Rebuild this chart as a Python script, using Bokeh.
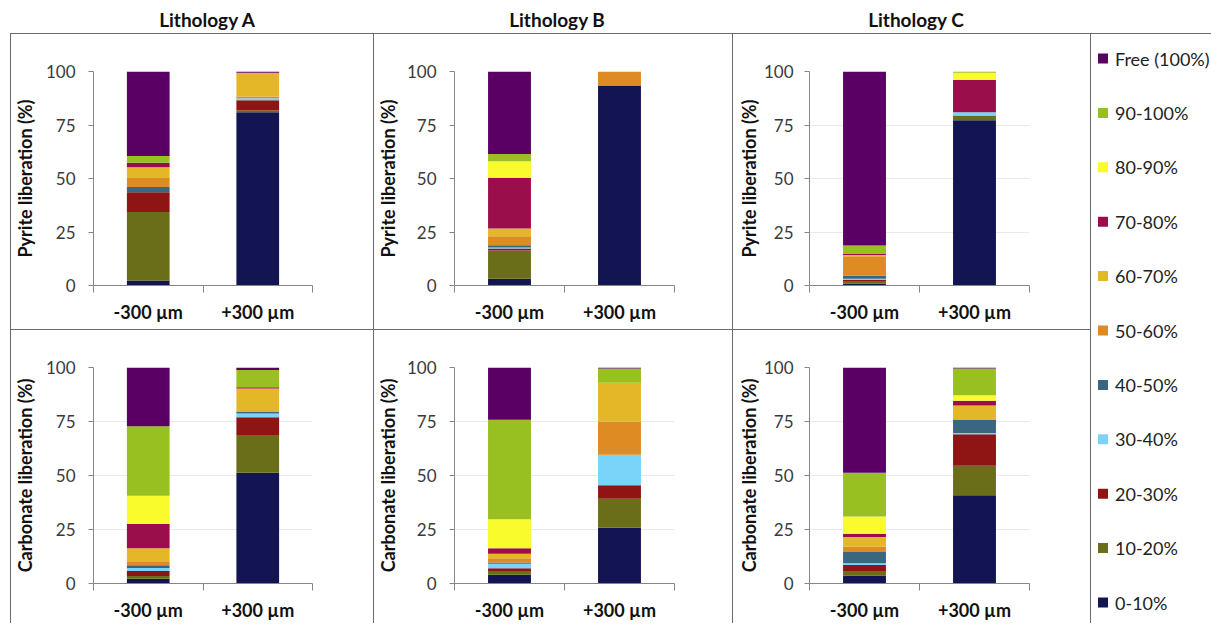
from bokeh.plotting import figure
from bokeh.models import Range1d, FixedTicker, Div, ColumnDataSource
from bokeh.layouts import row, column
from bokeh.core.properties import value
from bokeh.embed import file_html
from bokeh.resources import INLINE

# ---------------- data ----------------
classes = ["0-10%", "10-20%", "20-30%", "30-40%", "40-50%", "50-60%",
           "60-70%", "70-80%", "80-90%", "90-100%", "Free (100%)"]
colors = ["#131452", "#6b6e18", "#8f1414", "#7ad4fa", "#3a6680", "#dd8b22",
          "#e4b728", "#9b0e4c", "#f9fb2c", "#98c021", "#5a0064"]
sizes = ["-300 µm", "+300 µm"]
lithologies = ["Lithology A", "Lithology B", "Lithology C"]
y_labels = ["Pyrite liberation (%)", "Carbonate liberation (%)"]
y_ticks = [0, 25, 50, 75, 100]

pyrite_A_minus = [2.3, 32.0, 9.3, 0.0, 2.4, 4.2, 5.0, 2.2, 0.0, 3.1, 39.5]
pyrite_A_plus = [81.0, 0.8, 4.8, 0.9, 0.0, 0.8, 11.1, 0.0, 0.0, 0.0, 0.6]
pyrite_B_minus = [3.1, 13.3, 0.9, 0.5, 1.0, 4.2, 3.6, 23.7, 7.8, 3.4, 38.5]
pyrite_B_plus = [93.5, 0.0, 0.0, 0.0, 0.0, 6.5, 0.0, 0.0, 0.0, 0.0, 0.0]
pyrite_C_minus = [0.9, 0.8, 0.9, 0.5, 1.4, 9.2, 0.5, 0.5, 0.0, 4.0, 81.3]
pyrite_C_plus = [77.2, 2.2, 0.0, 1.6, 0.0, 0.0, 0.0, 15.0, 3.4, 0.6, 0.0]

carbonate_A_minus = [2.2, 1.3, 2.3, 1.4, 1.3, 1.5, 6.3, 11.3, 13.0, 32.2, 27.2]
carbonate_A_plus = [51.3, 17.4, 8.3, 1.7, 0.7, 0.0, 10.9, 0.5, 0.0, 8.0, 1.2]
carbonate_B_minus = [4.0, 1.4, 1.7, 2.0, 0.6, 2.0, 2.1, 2.5, 13.4, 46.1, 24.2]
carbonate_B_plus = [25.8, 13.4, 6.3, 14.1, 0.0, 15.4, 17.9, 0.0, 0.0, 6.6, 0.5]
carbonate_C_minus = [3.7, 2.1, 2.8, 0.8, 5.2, 2.4, 4.5, 1.5, 8.0, 20.3, 48.7]
carbonate_C_plus = [40.8, 13.7, 14.6, 0.6, 6.0, 0.0, 6.7, 2.2, 2.6, 12.3, 0.5]

# ---------------- style ----------------
FONT = "Lato"
AXIS_COL = "#868686"
TICK_COL = "#3a3a3a"
BOLD_COL = "#111111"
BORDER = "inset 1px 1px 0 0 #6a6a6a"


def make_panel(minus, plus, ylabel, width, height, left, right, top, bottom,
               grid, x_standoff, margin, lab_standoff, tick_standoff):
    xs = [i + 0.5 for i in range(len(sizes))]
    data = {"x": xs}
    for k, c in enumerate(classes):
        data[c] = [minus[k], plus[k]]
    src = ColumnDataSource(data)
    p = figure(width=width, height=height,
               x_range=Range1d(0, len(sizes)), y_range=Range1d(0, 100),
               output_backend="svg", toolbar_location=None,
               min_border_left=left, min_border_right=right,
               min_border_top=top, min_border_bottom=bottom,
               border_fill_color=None, background_fill_color=None,
               outline_line_color=None, margin=margin)
    p.vbar_stack(classes, x="x", width=0.39, fill_color=colors,
                 line_color=None, source=src)
    p.styles = {"box-shadow": BORDER}

    p.xgrid.visible = False
    if grid:
        p.ygrid.grid_line_color = "#e9e9e9"
        p.ygrid.grid_line_width = 1
    else:
        p.ygrid.visible = False

    ya = p.yaxis[0]
    ya.ticker = FixedTicker(ticks=y_ticks)
    ya.axis_label = ylabel
    ya.axis_label_text_font = FONT
    ya.axis_label_text_font_style = "bold"
    ya.axis_label_text_font_size = "18px"
    ya.axis_label_text_color = BOLD_COL
    ya.axis_label_standoff = lab_standoff
    ya.major_label_text_font = FONT
    ya.major_label_text_font_size = "17px"
    ya.major_label_text_color = TICK_COL
    ya.major_label_standoff = tick_standoff
    ya.major_tick_out = 5
    ya.major_tick_in = 0
    ya.minor_tick_out = 0
    ya.minor_tick_in = 0
    ya.axis_line_color = AXIS_COL
    ya.major_tick_line_color = AXIS_COL

    xa = p.xaxis[0]
    xa.ticker = FixedTicker(ticks=xs, minor_ticks=list(range(len(sizes) + 1)))
    xa.major_label_overrides = {xs[i]: sizes[i] for i in range(len(sizes))}
    xa.major_label_text_font = FONT
    xa.major_label_text_font_style = "bold"
    xa.major_label_text_font_size = "18px"
    xa.major_label_text_color = BOLD_COL
    xa.major_label_standoff = x_standoff
    xa.major_tick_out = 0
    xa.major_tick_in = 0
    xa.minor_tick_out = 7
    xa.minor_tick_in = 0
    xa.axis_line_color = AXIS_COL
    xa.minor_tick_line_color = AXIS_COL
    return p


widths = [363, 359, 358]
lefts = [82, 81, 77]
rights = [61, 58, 61]
margins = [(0, 0, 0, 10), 0, 0]
lab_standoffs = [7, 5, 1]
tick_standoffs = [13, 13, 11]

pyr = [(pyrite_A_minus, pyrite_A_plus), (pyrite_B_minus, pyrite_B_plus),
       (pyrite_C_minus, pyrite_C_plus)]
car = [(carbonate_A_minus, carbonate_A_plus), (carbonate_B_minus, carbonate_B_plus),
       (carbonate_C_minus, carbonate_C_plus)]
pyr_grid = [False, False, True]

TOP_H, BOT_H = 296, 294
top_row = [make_panel(m, pl, y_labels[0], widths[i], TOP_H, lefts[i], rights[i],
                      38, 44, pyr_grid[i], 8, margins[i],
                      lab_standoffs[i], tick_standoffs[i])
           for i, (m, pl) in enumerate(pyr)]
bot_row = [make_panel(m, pl, y_labels[1], widths[i], BOT_H, lefts[i], rights[i],
                      38, 40, True, 8, margins[i],
                      lab_standoffs[i], tick_standoffs[i])
           for i, (m, pl) in enumerate(car)]

# ---------------- legend panel ----------------
n = len(classes)
LEG_H = TOP_H + BOT_H
step = 54.4
lg = figure(width=121, height=LEG_H, x_range=Range1d(-12.5, 108.5),
            y_range=Range1d(-(LEG_H - 25 - step * (n - 1)) / step,
                            n - 1 + 25 / step),
            output_backend="svg", toolbar_location=None,
            x_axis_location=None, y_axis_location=None,
            min_border=0, border_fill_color=None, background_fill_color=None,
            outline_line_color=None, margin=0)
lg.grid.visible = False
lsrc = ColumnDataSource({"x": [0] * n, "y": list(range(n)),
                         "label": classes, "color": colors})
lg.scatter(x="x", y="y", marker="square", size=10, fill_color="color",
           line_color=None, source=lsrc)
lg.text(x="x", y="y", text="label", x_offset=12, text_baseline="middle",
        text_font=value(FONT), text_font_size="18px", text_color="#222222",
        source=lsrc)
lg.styles = {"box-shadow": BORDER}

# ---------------- titles ----------------
title_widths = [414, 286, 432]
title_style = {"font-family": FONT, "font-weight": "bold", "font-size": "19px",
               "color": "#111111", "text-align": "center", "line-height": "40px",
               "overflow": "visible"}
titles = [Div(text=t, width=w, height=33, margin=0, styles=title_style)
          for t, w in zip(lithologies, title_widths)]

layout = column(row(*titles, margin=0),
                row(column(row(*top_row), row(*bot_row)), lg),
                margin=0)

open("out.html", "w").write(file_html(layout, INLINE))
